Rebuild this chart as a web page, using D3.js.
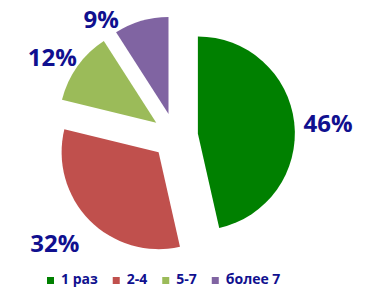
<!DOCTYPE html>
<html><head><meta charset="utf-8">
<script src="https://cdn.jsdelivr.net/npm/d3@7"></script>
<style>html,body{margin:0;padding:0;background:#fff;}svg{display:block;}</style>
</head><body>
<svg id="chart" width="365" height="288"></svg>
<script>
const categories = ["1 раз", "2-4", "5-7", "более 7"];
const values = [46, 32, 12, 9];
const labels = ["46%", "32%", "12%", "9%"];
const colors = ["#008000", "#C0504D", "#9BBB59", "#8064A2"];

// layout
const W = 365, H = 288;
const cx = 175, cy = 136, radius = 97, explode = 23;
const labelGap = 18, labelW = 50, labelH = 18;
const labelNudge = [[-9, 3], [-4, 3], [10, 6], [-28, 24]];
const textColor = "#10108F";

const svg = d3.select("#chart");
const pie = d3.pie().value(d => d).sort(null)
  .startAngle(0).endAngle(2 * Math.PI);
const arcs = pie(values);
const arc = d3.arc().innerRadius(0).outerRadius(radius);

const g = svg.append("g").attr("transform", `translate(${cx},${cy})`);

arcs.forEach((a, i) => {
  const mid = (a.startAngle + a.endAngle) / 2;
  const dx = Math.sin(mid), dy = -Math.cos(mid);
  const vx = dx * explode, vy = dy * explode;
  g.append("path")
    .attr("d", arc(a))
    .attr("transform", `translate(${vx},${vy})`)
    .attr("fill", colors[i]);
  const px = vx + dx * (radius + labelGap) + dx * labelW / 2 + labelNudge[i][0];
  const py = vy + dy * (radius + labelGap) + dy * labelH / 2 + labelNudge[i][1];
  g.append("text")
    .attr("x", px).attr("y", py)
    .attr("text-anchor", "middle")
    .attr("dominant-baseline", "central")
    .attr("font-family", "'Open Sans', sans-serif")
    .attr("font-weight", "bold")
    .attr("font-size", 24)
    .attr("fill", textColor)
    .text(labels[i]);
});

// legend
const legend = svg.append("g").attr("transform", "translate(47,284)");
let x = 0;
categories.forEach((c, i) => {
  legend.append("rect")
    .attr("x", x).attr("y", -7).attr("width", 7).attr("height", 7)
    .attr("fill", colors[i]);
  const t = legend.append("text")
    .attr("x", x + 14).attr("y", 0)
    .attr("font-family", "'Open Sans', sans-serif")
    .attr("font-weight", "bold")
    .attr("font-size", 14)
    .attr("fill", textColor)
    .text(c);
  x += 14 + t.node().getComputedTextLength() + 15;
});
</script>
</body></html>
